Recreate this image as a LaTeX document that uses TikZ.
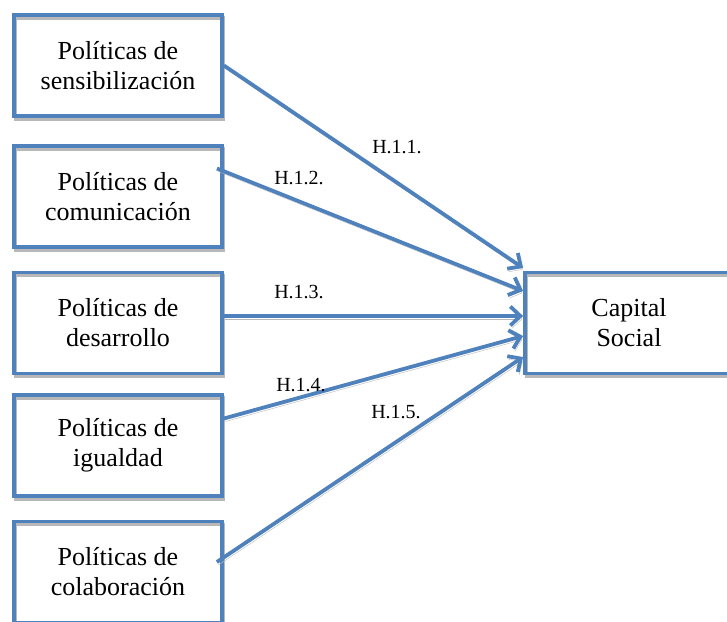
\documentclass[tikz,border=0pt]{standalone}
\usepackage{fontspec}
\setmainfont{Liberation Serif}
\usetikzlibrary{arrows.meta}
\definecolor{wordblue}{RGB}{79,129,189}

\begin{document}
\begin{tikzpicture}[x=1pt,y=-1pt,
  dropline/.style={preaction={draw=black!28,transform canvas={shift={(1.5pt,-3pt)}}}},
  pol/.style={draw=wordblue,line width=3.8pt,dropline,minimum width=208pt,minimum height=101pt,
    align=center,inner sep=0pt,font=\fontsize{26}{30}\selectfont},
  hyp/.style={draw=wordblue,line width=3.8pt,dropline,-{Straight Barb[length=10pt,width=19pt]}},
  lbl/.style={inner sep=0pt,font=\fontsize{20}{24}\selectfont}]
\useasboundingbox (0,0) rectangle (727,621);
\clip (0,0) rectangle (727,621);
\node[pol] (sens) at (118,65.5) {Políticas de\\sensibilización};
\node[pol] (comu) at (118,196.5) {Políticas de\\comunicación};
\node[pol] (desa) at (118,323) {Políticas de\\desarrollo};
\node[pol] (igua) at (118,445.5) {Políticas de\\igualdad};
\node[pol] (cola) at (118,572) {Políticas de\\colaboración};
\node[pol] (capital) at (629,323) {Capital\\Social};
\draw[hyp] (sens.east) -- ([yshift=55pt]capital.west);
\draw[hyp] ([xshift=-7pt,yshift=28pt]comu.east) -- ([yshift=32pt]capital.west);
\draw[hyp] ([yshift=7pt]desa.east) -- ([yshift=7pt]capital.west);
\draw[hyp] ([yshift=27pt]igua.east) -- ([yshift=-13pt]capital.west);
\draw[hyp] ([xshift=-7pt,yshift=10pt]cola.east) -- ([yshift=-34pt]capital.west);
\node[lbl] (h1) at (397,147) {H.1.1.};
\node[lbl] (h2) at (299,178) {H.1.2.};
\node[lbl] (h3) at (299,292) {H.1.3.};
\node[lbl] (h4) at (301,385) {H.1.4.};
\node[lbl] (h5) at (396,412) {H.1.5.};
\end{tikzpicture}
\end{document}
